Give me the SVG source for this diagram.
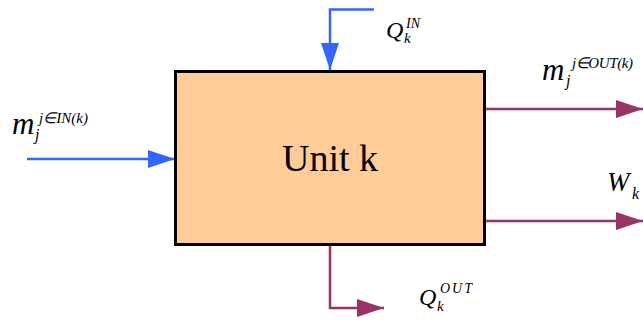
<svg xmlns="http://www.w3.org/2000/svg" width="643" height="322" viewBox="0 0 643 322">
<defs>
<style>
.box{fill:#FFCC99;stroke:#000;stroke-width:3}
.blue{fill:none;stroke:#3366FF;stroke-width:2.5}
.purple{fill:none;stroke:#993366;stroke-width:2.5}
.t{font-family:"Liberation Serif","Times New Roman",serif;fill:#000}
.it{font-style:italic}
</style>
<marker id="ab" markerUnits="userSpaceOnUse" markerWidth="28" markerHeight="18" refX="27" refY="9" orient="auto" viewBox="0 0 28 18">
<path d="M0,0 L27,9 L0,18 z" fill="#3366FF"/>
</marker>
<marker id="ap" markerUnits="userSpaceOnUse" markerWidth="28" markerHeight="18" refX="27" refY="9" orient="auto" viewBox="0 0 28 18">
<path d="M0,0 L27,9 L0,18 z" fill="#993366"/>
</marker>
</defs>
<g id="connectors">
<path id="in-flow" class="blue" d="M27,159 L175,159" marker-end="url(#ab)"/>
<path id="q-in" class="blue" d="M374,9.5 L330,9.5 L330,70" marker-end="url(#ab)"/>
<path id="out-flow" class="purple" d="M486,109 L643,109" marker-end="url(#ap)"/>
<path id="work" class="purple" d="M486,221 L643,221" marker-end="url(#ap)"/>
<path id="q-out" class="purple" d="M330,246 L330,308 L384,308" marker-end="url(#ap)"/>
</g>
<g id="unit-k">
<rect class="box" x="175.5" y="71.5" width="309" height="173"/>
<text class="t" x="330" y="171" font-size="38" text-anchor="middle">Unit k</text>
</g>
<g id="labels">
<g id="label-m-in">
<text class="t it" x="12" y="134" font-size="31">m</text>
<text class="t it" x="35" y="140" font-size="16">j</text>
<text class="t it" x="39" y="123" font-size="15" textLength="49" lengthAdjust="spacing">j∈IN(k)</text>
</g>
<g id="label-q-in">
<text class="t it" x="386" y="38" font-size="24">Q</text>
<text class="t it" x="404" y="43" font-size="15">k</text>
<text class="t it" x="406" y="28" font-size="14">IN</text>
</g>
<g id="label-m-out">
<text class="t it" x="542" y="80" font-size="31">m</text>
<text class="t it" x="566" y="86" font-size="16">j</text>
<text class="t it" x="572" y="68" font-size="15" textLength="61" lengthAdjust="spacing">j∈OUT(k)</text>
</g>
<g id="label-w">
<text class="t it" x="607" y="191" font-size="27">W</text>
<text class="t it" x="632" y="199" font-size="16">k</text>
</g>
<g id="label-q-out">
<text class="t it" x="419" y="305" font-size="24">Q</text>
<text class="t it" x="437" y="311" font-size="15">k</text>
<text class="t it" x="440" y="293" font-size="14" textLength="32" lengthAdjust="spacing">OUT</text>
</g>
</g>
</svg>
